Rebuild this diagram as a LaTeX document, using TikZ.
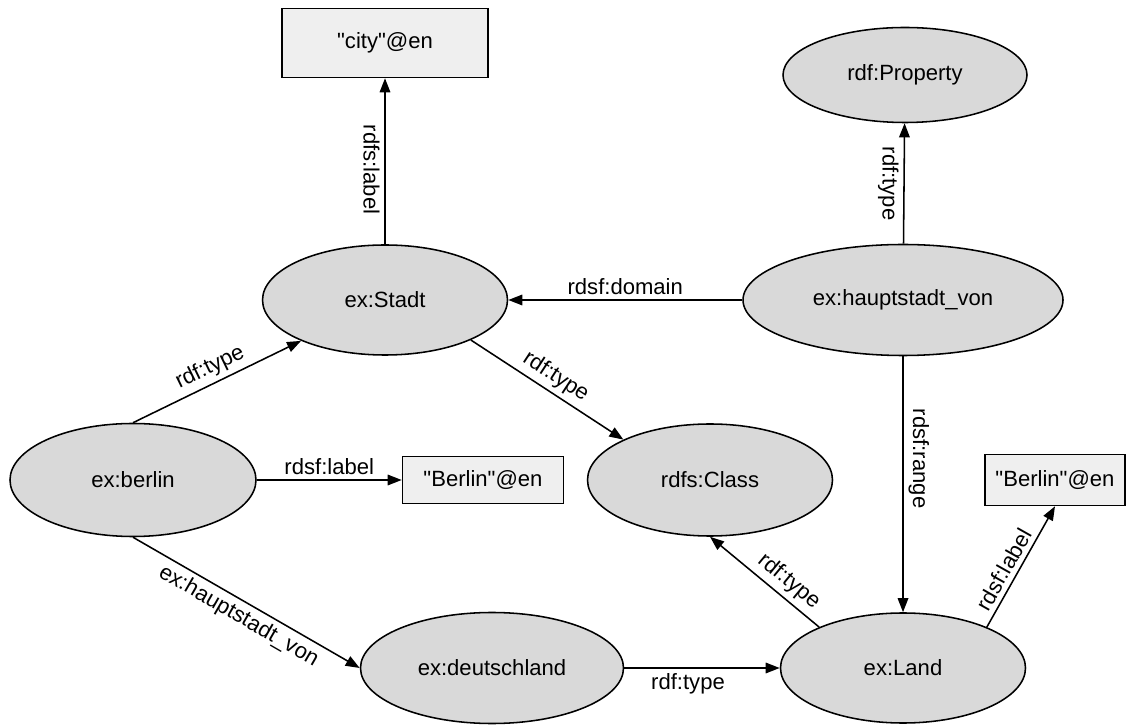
\documentclass[tikz,border=0pt]{standalone}
\usepackage{fontspec}
\setmainfont{Liberation Sans}
\usetikzlibrary{shapes.geometric,arrows.meta}
\definecolor{resgray}{HTML}{D9D9D9}
\definecolor{litgray}{HTML}{EFEFEF}
\begin{document}
\begin{tikzpicture}[
 font=\fontsize{15.7}{19}\selectfont,
 res/.style={ellipse,draw,line width=1.1pt,fill=resgray,inner sep=0pt},
 lit/.style={rectangle,draw,line width=1.1pt,fill=litgray,inner sep=0pt},
 rel/.style={-{Triangle[length=10pt,width=7.5pt]},line width=1.1pt}]
 \useasboundingbox (0,0) rectangle (28.15,18.1);
 % Ressourcen und Literale
 \node[lit,minimum width=5.15cm,minimum height=1.725cm] (city) at (9.625,17.025) {\textquotedbl city\textquotedbl @en};
 \node[res,minimum width=6.1cm,minimum height=2.375cm] (prop) at (22.625,16.225) {rdf:Property};
 \node[res,minimum width=8cm,minimum height=2.775cm] (haupt) at (22.575,10.6) {ex:hauptstadt\_von};
 \node[res,minimum width=6.125cm,minimum height=2.75cm] (stadt) at (9.625,10.6) {ex:Stadt};
 \node[res,minimum width=6.15cm,minimum height=2.825cm] (berlin) at (3.325,6.1) {ex:berlin};
 \node[lit,minimum width=4.025cm,minimum height=1.175cm] (lbl1) at (12.075,6.1) {\textquotedbl Berlin\textquotedbl @en};
 \node[res,minimum width=6.125cm,minimum height=2.8cm] (class) at (17.75,6.1) {rdfs:Class};
 \node[lit,minimum width=3.5cm,minimum height=1.275cm] (lbl2) at (26.375,6.1) {\textquotedbl Berlin\textquotedbl @en};
 \node[res,minimum width=6.575cm,minimum height=2.775cm] (deutsch) at (12.3,1.4) {ex:deutschland};
 \node[res,minimum width=6.125cm,minimum height=2.75cm] (land) at (22.575,1.4) {ex:Land};
 % Tripel
 \draw[rel] (berlin.north) -- node[sloped,above]{rdf:type} (stadt);
 \draw[rel] (berlin) -- node[above]{rdsf:label} (lbl1);
 \draw[rel] (berlin.south) -- node[sloped,below]{ex:hauptstadt\_von} (deutsch.west);
 \draw[rel] (stadt) -- node[rotate=-90,anchor=north,pos=0.45]{rdfs:label} (city);
 \draw[rel] (stadt.335) -- node[sloped,above]{rdf:type} (class.155);
 \draw[rel] (haupt) -- node[above]{rdsf:domain} (stadt);
 \draw[rel] (haupt) -- node[rotate=-90,anchor=north]{rdf:type} (prop);
 \draw[rel] (haupt) -- node[rotate=-90,anchor=south,pos=0.4]{rdsf:range} (land);
 \draw[rel] (land.154) -- node[sloped,above,pos=0.37]{rdf:type} (class.south);
 \draw[rel] (land.26) -- node[sloped,above,pos=0.42]{rdsf:label} (lbl2.south);
 \draw[rel] (deutsch) -- node[below,pos=0.41]{rdf:type} (land);
\end{tikzpicture}
\end{document}
